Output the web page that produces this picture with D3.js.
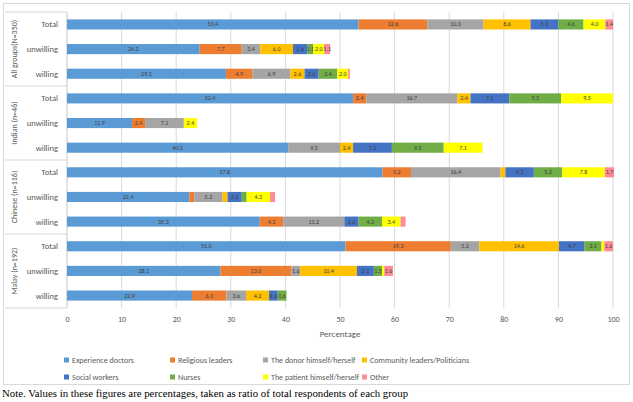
<!DOCTYPE html>
<html>
<head>
<meta charset="utf-8">
<script src="https://cdn.jsdelivr.net/npm/d3@7"></script>
<style>
  body { margin: 0; background: #fff; }
  svg text { font-family: Calibri, Carlito, "Liberation Sans", sans-serif; }
</style>
</head>
<body>
<svg id="chart" width="633" height="402"></svg>
<script>
// series, in stacking order
var series = ["Experience doctors", "Religious leaders", "The donor himself/herself",
  "Community leaders/Politicians", "Social workers", "Nurses",
  "The patient himself/herself", "Other"];
var colors = ["#5B9BD5", "#ED7D31", "#A5A5A5", "#FFC000", "#4472C4", "#70AD47", "#FFFF00", "#FF8B94"];

var groups = ["All  groups(N=350)", "Indian  (n=46)", "Chinese (n=116)", "Malay (n=192)"];
var rowsInGroup = ["Total", "unwilling", "willing"];

// values per row, same order as series
var allGroups = [
  [53.4, 12.6, 10.3, 8.6, 5.1, 4.6, 4.0, 1.4],
  [24.3, 7.7, 3.4, 6.0, 2.6, 1.1, 2.0, 1.1],
  [29.1, 4.9, 6.9, 2.6, 2.6, 3.4, 2.0, 0.3]
];
var indian = [
  [52.4, 2.4, 16.7, 2.4, 7.1, 9.5, 9.5, 0],
  [11.9, 2.4, 7.1, 0, 0, 0, 2.4, 0],
  [40.5, 0, 9.5, 2.4, 7.1, 9.5, 7.1, 0]
];
var chinese = [
  [57.8, 5.2, 16.4, 0.9, 5.2, 5.2, 7.8, 1.7],
  [22.4, 0.9, 5.2, 0.9, 2.6, 0.9, 4.3, 0.9],
  [35.3, 4.3, 11.2, 0, 2.6, 4.3, 3.4, 0.9]
];
var malay = [
  [51.0, 19.3, 5.2, 14.6, 4.7, 3.1, 0.5, 1.6],
  [28.1, 13.0, 1.6, 10.4, 3.1, 1.5, 0.4, 1.6],
  [22.9, 6.3, 3.6, 4.2, 1.6, 1.6, 0, 0]
];
var xTicks = [0, 10, 20, 30, 40, 50, 60, 70, 80, 90, 100];

var svg = d3.select("#chart");
var plotLeft = 67, plotRight = 613, plotTop = 12, plotBottom = 308;

var groupData = [allGroups, indian, chinese, malay];
var rows = [];
groupData.forEach(function(g, gi) {
  g.forEach(function(vals, ri) {
    rows.push({ id: gi + "-" + ri, group: gi, label: rowsInGroup[ri], vals: vals });
  });
});

var x = d3.scaleLinear().domain([0, 100]).range([plotLeft, plotRight]);
var y = d3.scaleBand().domain(rows.map(function(r) { return r.id; }))
  .range([plotTop, plotBottom]).paddingInner(0.59).paddingOuter(0.3);

// outer frame
svg.append("rect").attr("x", 3.5).attr("y", 3.5).attr("width", 626).attr("height", 381)
  .attr("fill", "none").attr("stroke", "#D9D9D9");

// gridlines
svg.append("g").selectAll("line").data(xTicks).join("line")
  .attr("x1", function(d) { return x(d); }).attr("x2", function(d) { return x(d); })
  .attr("y1", plotTop).attr("y2", plotBottom)
  .attr("stroke", "#D9D9D9").attr("stroke-width", 1);

// x axis labels
var xAxis = d3.axisBottom(x).tickValues(xTicks).tickSize(0).tickPadding(0);
var gx = svg.append("g").attr("transform", "translate(0," + (plotBottom + 8) + ")").call(xAxis);
gx.select(".domain").remove();
gx.selectAll("text").attr("fill", "#595959").style("font-size", "8px");

svg.append("text").attr("x", (plotLeft + plotRight) / 2).attr("y", 337)
  .attr("text-anchor", "middle").attr("fill", "#595959").style("font-size", "9px")
  .text("Percentage");

// category axis: group separators
var groupStep = (plotBottom - plotTop) / groups.length;
svg.append("g").selectAll("line").data(d3.range(groups.length + 1)).join("line")
  .attr("x1", 5).attr("x2", plotLeft)
  .attr("y1", function(d) { return plotTop + d * groupStep; })
  .attr("y2", function(d) { return plotTop + d * groupStep; })
  .attr("stroke", "#D9D9D9");
svg.append("line").attr("x1", plotLeft).attr("x2", plotLeft).attr("y1", plotTop).attr("y2", plotBottom)
  .attr("stroke", "#D9D9D9");

svg.append("g").selectAll("text").data(groups).join("text")
  .attr("transform", function(d, i) {
    return "translate(14," + (plotTop + (i + 0.5) * groupStep) + ") rotate(-90)";
  })
  .attr("text-anchor", "middle").attr("dominant-baseline", "central")
  .attr("fill", "#595959").style("font-size", "8px")
  .text(function(d) { return d; });

svg.append("g").selectAll("text").data(rows).join("text")
  .attr("x", 58).attr("y", function(d) { return y(d.id) + y.bandwidth() / 2; })
  .attr("text-anchor", "end").attr("dominant-baseline", "central")
  .attr("fill", "#595959").style("font-size", "8.5px")
  .text(function(d) { return d.label; });

// stacked bars
var stack = d3.stack().keys(d3.range(series.length))
  .value(function(d, k) { return d.vals[k]; });
var layers = stack(rows);

var layerG = svg.append("g").selectAll("g").data(layers).join("g")
  .attr("fill", function(d, i) { return colors[i]; });

layerG.selectAll("rect").data(function(d) { return d; }).join("rect")
  .attr("x", function(d) { return x(d[0]); })
  .attr("y", function(d) { return y(d.data.id); })
  .attr("width", function(d) { return x(d[1]) - x(d[0]); })
  .attr("height", y.bandwidth());

layerG.selectAll("text").data(function(d) {
    return d.filter(function(s) { return s[1] - s[0] >= 1.0; });
  }).join("text")
  .attr("x", function(d) { return (x(d[0]) + x(d[1])) / 2; })
  .attr("y", function(d) { return y(d.data.id) + y.bandwidth() / 2; })
  .attr("text-anchor", "middle").attr("dominant-baseline", "central")
  .attr("fill", "#404040").style("font-size", "6px")
  .text(function(d) { return d3.format(".1f")(d[1] - d[0]); });

// legend
var legendX = [64, 170, 263, 362];
var legendY = [360, 377];
var legend = svg.append("g").selectAll("g").data(series).join("g")
  .attr("transform", function(d, i) {
    return "translate(" + legendX[i % 4] + "," + legendY[Math.floor(i / 4)] + ")";
  });
legend.append("rect").attr("x", 0).attr("y", -2.5).attr("width", 5).attr("height", 5)
  .attr("fill", function(d, i) { return colors[i]; });
legend.append("text").attr("x", 8).attr("y", 0).attr("dominant-baseline", "central")
  .attr("fill", "#595959").style("font-size", "8px")
  .text(function(d) { return d; });

// note under the chart
svg.append("text").attr("x", 2).attr("y", 397)
  .style("font-family", "'Liberation Serif', serif").style("font-size", "10.8px")
  .attr("fill", "#000")
  .text("Note. Values in these figures are percentages, taken as ratio of total respondents of each group");
</script>
</body>
</html>
